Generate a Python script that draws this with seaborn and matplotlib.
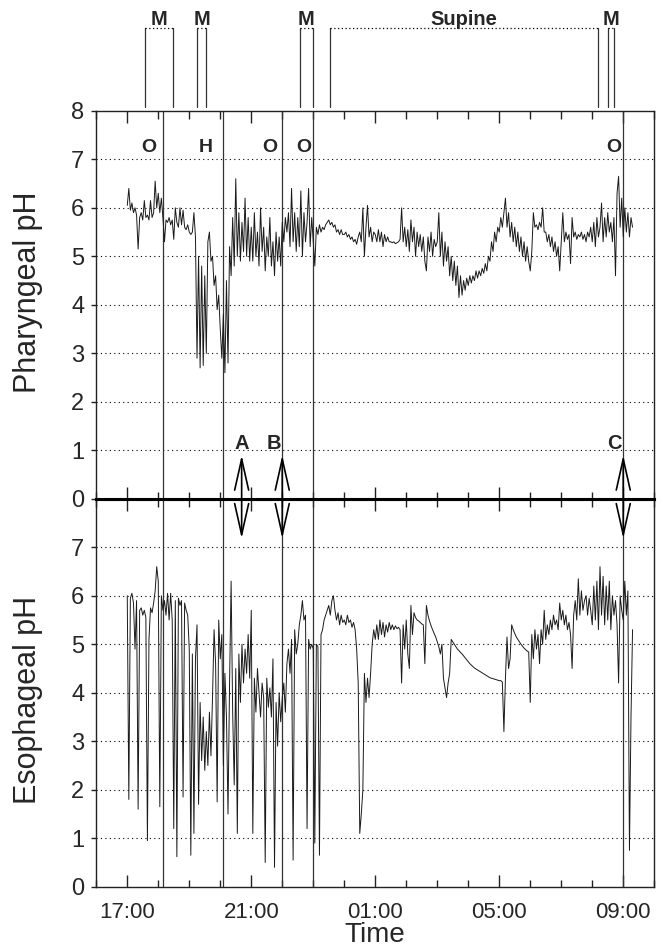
import numpy as np
import pandas as pd
import seaborn as sns
import matplotlib.pyplot as plt
from matplotlib.ticker import FixedLocator, MultipleLocator

sns.set_theme(style="white")
plt.rcParams["font.family"] = ["Liberation Sans", "DejaVu Sans"]

# pH every 3 minutes, from 17:00 to 09:18 (one row per hour)
pharyngeal_ph = [
    6.05, 6.4, 5.95, 6.1, 5.9, 6.0, 5.85, 5.15, 5.8, 5.9, 5.75, 6.15, 5.8, 5.85, 5.75, 6.15, 5.8, 5.9, 6.55, 6.0,
    6.3, 5.9, 6.2, 5.8, 5.3, 5.75, 5.7, 5.8, 5.65, 5.75, 5.35, 6.0, 5.7, 5.6, 6.0, 5.65, 5.95, 5.6, 5.55, 5.65,
    5.5, 5.45, 5.5, 5.9, 5.4, 2.9, 5.0, 2.7, 4.8, 2.75, 4.6, 3.0, 5.3, 5.5, 4.9, 5.0, 4.4, 4.6, 3.9, 4.2,
    3.5, 2.9, 3.8, 2.6, 4.5, 2.8, 5.2, 4.6, 5.8, 4.8, 6.6, 5.0, 5.9, 4.9, 5.7, 5.1, 6.2, 5.0, 5.8, 4.9,
    5.6, 4.9, 5.9, 5.0, 5.5, 4.8, 6.0, 5.1, 5.6, 4.7, 5.4, 5.0, 5.8, 4.8, 5.3, 4.6, 5.5, 4.9, 5.4, 4.8,
    5.7, 5.3, 5.8, 5.5, 5.9, 5.2, 6.4, 5.3, 5.9, 5.1, 5.8, 5.2, 6.35, 5.0, 5.9, 5.3, 5.7, 6.4, 5.2, 5.8,
    5.3, 4.8, 5.6, 5.45, 5.65, 5.5, 5.6, 5.55, 5.65, 5.7, 5.75, 5.65, 5.7, 5.6, 5.65, 5.5, 5.55, 5.45, 5.55, 5.45,
    5.45, 5.5, 5.4, 5.45, 5.35, 5.4, 5.3, 5.35, 5.25, 5.4, 5.5, 5.3, 6.0, 5.0, 5.6, 6.05, 5.4, 5.6, 5.3, 5.5,
    5.45, 5.3, 5.55, 5.3, 5.5, 5.2, 5.45, 5.3, 5.4, 5.3, 5.3, 5.28, 5.3, 5.26, 5.28, 5.3, 5.35, 6.0, 5.3, 5.6,
    5.2, 5.55, 5.1, 5.75, 5.3, 5.6, 5.0, 5.5, 5.2, 5.45, 5.1, 5.4, 4.9, 4.7, 5.4, 5.1, 5.5, 5.0, 5.35, 5.2,
    5.3, 5.9, 5.0, 5.5, 4.8, 5.3, 4.9, 5.2, 4.6, 5.0, 4.5, 4.9, 4.4, 4.8, 4.15, 4.6, 4.2, 4.5, 4.3, 4.55,
    4.4, 4.6, 4.45, 4.6, 4.5, 4.7, 4.55, 4.7, 4.6, 4.75, 4.65, 4.85, 4.7, 5.0, 4.9, 5.3, 5.1, 5.5, 5.3, 5.6,
    5.5, 5.8, 5.6, 5.9, 6.2, 5.6, 5.9, 5.4, 5.7, 5.3, 5.6, 5.2, 5.5, 5.1, 5.4, 5.0, 5.3, 4.9, 5.2, 4.9,
    4.7, 5.1, 5.9, 5.6, 5.65, 5.55, 5.7, 5.6, 6.0, 5.5, 5.5, 5.3, 5.45, 5.2, 5.4, 5.1, 5.3, 5.0, 5.2, 4.7,
    5.3, 5.9, 5.3, 5.5, 5.35, 5.45, 4.85, 5.8, 5.4, 5.5, 5.35, 5.45, 5.4, 5.5, 5.35, 5.45, 5.3, 5.5, 5.4, 5.6,
    5.3, 5.7, 5.2, 5.8, 5.4, 5.6, 6.1, 5.3, 5.8, 5.4, 5.9, 5.5, 5.7, 5.3, 5.8, 4.6, 6.3, 6.65, 5.6, 6.2,
    5.4, 6.0, 5.5, 5.9, 5.4, 5.8, 5.6,
]
esophageal_ph = [
    6.0, 1.8, 5.95, 6.05, 5.85, 4.9, 5.9, 1.6, 5.7, 5.75, 5.6, 5.7, 5.55, 0.95, 5.1, 5.75, 5.65, 5.85, 6.1, 6.6,
    6.3, 1.65, 6.0, 5.7, 5.9, 5.6, 6.05, 5.5, 6.05, 5.5, 1.2, 5.9, 0.62, 5.95, 5.8, 5.9, 1.85, 5.85, 5.7, 5.6,
    4.9, 0.65, 4.8, 1.1, 4.7, 5.4, 1.7, 3.8, 2.6, 3.5, 2.4, 3.2, 2.5, 3.6, 2.7, 3.9, 5.3, 4.6, 1.75, 5.5,
    4.7, 5.2, 2.5, 4.4, 3.5, 1.5, 4.2, 6.3, 3.6, 2.1, 4.5, 1.1, 4.8, 3.8, 5.0, 4.2, 4.9, 4.4, 5.2, 4.3,
    5.7, 1.1, 4.3, 3.6, 4.5, 4.0, 3.5, 4.2, 3.9, 0.5, 4.3, 3.7, 4.1, 3.5, 4.7, 0.4, 3.8, 2.9, 4.0, 3.4,
    3.9, 4.2, 3.6, 4.6, 4.9, 4.4, 5.1, 0.55, 5.3, 4.8, 5.0, 5.4, 5.6, 5.9, 5.5, 5.6, 1.2, 5.1, 4.9, 5.0,
    4.9, 0.9, 5.0, 4.95, 0.65, 5.2, 5.3, 5.5, 5.6, 5.7, 5.8, 5.6, 5.9, 6.0, 5.7, 5.5, 5.65, 5.4, 5.6, 5.45,
    5.5, 5.4, 5.6, 5.45, 5.5, 5.35, 5.45, 5.3, 4.9, 4.2, 1.1, 1.5, 2.0, 4.4, 3.8, 4.3, 3.9, 4.4, 5.0, 5.3,
    5.1, 5.4, 5.1, 5.5, 5.2, 5.45, 5.15, 5.4, 5.25, 5.45, 5.3, 5.4, 5.3, 5.38, 5.32, 5.35, 5.3, 4.2, 5.4, 4.9,
    5.5, 4.8, 4.5, 5.8, 5.2, 5.65, 5.55, 5.5, 5.48, 5.45, 5.42, 5.4, 4.6, 5.8, 5.6, 5.48, 5.38, 5.3, 5.22, 5.15,
    5.05, 4.95, 4.8, 5.0, 4.3, 4.1, 3.9, 4.2, 4.4, 5.1, 5.05, 5.0, 4.95, 4.9, 4.87, 4.83, 4.8, 4.76, 4.72, 4.68,
    4.64, 4.6, 4.57, 4.54, 4.51, 4.49, 4.47, 4.45, 4.43, 4.41, 4.39, 4.37, 4.35, 4.33, 4.31, 4.3, 4.29, 4.28, 4.27, 4.26,
    4.25, 4.25, 4.22, 3.2, 4.3, 5.15, 4.5, 4.7, 5.4, 5.3, 5.22, 5.15, 5.1, 5.05, 5.0, 4.96, 4.92, 4.89, 4.86, 4.84,
    3.8, 5.2, 4.7, 5.3, 4.9, 5.2, 4.6, 5.3, 5.0, 5.7, 5.1, 5.4, 5.2, 5.5, 5.3, 5.6, 5.4, 5.5, 5.3, 5.85,
    5.5, 5.7, 5.4, 5.6, 5.3, 5.45, 5.2, 4.5, 5.6, 5.9, 5.5, 6.35, 5.6, 6.1, 5.7, 5.9, 6.0, 5.6, 5.95, 5.7,
    5.4, 6.2, 5.5, 6.3, 5.3, 6.6, 5.6, 6.4, 5.4, 6.2, 5.5, 6.3, 5.3, 6.0, 5.6, 5.9, 5.4, 4.2, 6.0, 5.7,
    5.5, 6.3, 5.6, 6.1, 0.75, 3.5, 5.3,
]
start_hour = 17.0
step_hours = 0.05

# events (hours since midnight of day 1; 33 = 09:00 next day)
event_times = [18.15, 20.08, 22.0, 23.0, 33.0]
event_labels = ["O", "H", "O", "O", "O"]
event_label_x = [17.68, 19.54, 21.6, 22.71, 32.7]

arrow_times = [20.69, 22.0, 33.0]
arrow_labels = ["A", "B", "C"]
arrow_label_x = [20.69, 21.73, 32.7]

period_starts = [17.57, 19.26, 22.56, 23.54, 32.5]
period_ends = [18.47, 19.54, 23.0, 32.19, 32.7]
period_labels = ["M", "M", "M", "Supine", "M"]

hour_ticks = [17, 21, 25, 29, 33]
hour_labels = ["17:00", "21:00", "01:00", "05:00", "09:00"]

time = start_hour + step_hours * np.arange(len(pharyngeal_ph))
df = pd.DataFrame({"Time": time, "Pharyngeal": pharyngeal_ph, "Esophageal": esophageal_ph})

fig = plt.figure(figsize=(6.63, 9.48), dpi=100)
ax_bot = fig.add_axes([0.1452, 0.0646, 0.8416, 0.4093])
ax_top = fig.add_axes([0.1452, 0.4738, 0.8416, 0.4093])

for ax, col in [(ax_top, "Pharyngeal"), (ax_bot, "Esophageal")]:
    ax.set_facecolor("white")
    for level in range(1, 8):
        ax.axhline(level, color="black", lw=0.8, ls=(0, (1, 3)), zorder=1)
    for t in event_times:
        ax.axvline(t, color="#333333", lw=0.9, zorder=2)
    sns.lineplot(data=df, x="Time", y=col, ax=ax, color="#1a1a1a", lw=0.7,
                 estimator=None, sort=False, zorder=3)
    ax.set_xlim(16, 34)
    ax.set_ylim(0, 8)
    ax.set_xlabel("")
    ax.set_ylabel("")
    ax.xaxis.set_major_locator(FixedLocator(hour_ticks))
    ax.xaxis.set_minor_locator(MultipleLocator(1))
    ax.tick_params(axis="x", which="both", direction="in", top=True, bottom=True,
                   color="#222222", width=1.0)
    ax.tick_params(axis="x", which="major", length=8.6)
    ax.tick_params(axis="x", which="minor", length=5.4)
    ax.tick_params(axis="y", which="both", direction="out", left=True, right=False,
                   length=3.6, width=1.0, color="#222222", labelsize=17, pad=5)
    for side in ["left", "right", "top", "bottom"]:
        ax.spines[side].set_color("#222222")
        ax.spines[side].set_linewidth(1.0)

ax_top.spines["bottom"].set_linewidth(2.2)
ax_bot.spines["top"].set_linewidth(2.2)
ax_top.spines["bottom"].set_color("black")
ax_bot.spines["top"].set_color("black")

ax_top.set_yticks(range(0, 9))
ax_bot.set_yticks(range(0, 8))
ax_top.tick_params(axis="x", labelbottom=False)
ax_bot.set_xticklabels(hour_labels)
ax_bot.tick_params(axis="x", labelsize=16, pad=11)

# event letters
for x, lab in zip(event_label_x, event_labels):
    ax_top.text(x, 7.24, lab, ha="center", va="center", fontsize=14, fontweight="bold")

# arrows across the two probes
head = "->,head_length=1.6,head_width=0.36"
for t in arrow_times:
    ax_top.annotate("", xy=(t, 0.9), xytext=(t, 0), annotation_clip=False,
                    arrowprops=dict(arrowstyle=head, mutation_scale=14, lw=1.2,
                                    color="black", shrinkA=0, shrinkB=0))
    ax_bot.annotate("", xy=(t, 7.18), xytext=(t, 8), annotation_clip=False,
                    arrowprops=dict(arrowstyle=head, mutation_scale=14, lw=1.2,
                                    color="black", shrinkA=0, shrinkB=0))
for x, lab in zip(arrow_label_x, arrow_labels):
    ax_top.text(x, 1.15, lab, ha="center", va="center", fontsize=14.5, fontweight="bold")

# meal / supine periods above the plot
for s, e, lab in zip(period_starts, period_ends, period_labels):
    for x in (s, e):
        ax_top.plot([x, x], [8.08, 9.7], color="#333333", lw=0.9, clip_on=False)
    ax_top.plot([s, e], [9.7, 9.7], color="black", lw=0.9, ls=(0, (1, 2)), clip_on=False)
    ax_top.text((s + e) / 2, 9.76, lab, ha="center", va="baseline", fontsize=14.5,
                fontweight="bold")

fig.text(28 / 663, 1 - 292 / 948, "Pharyngeal pH", rotation=90, ha="center", va="center",
         fontsize=22)
fig.text(28 / 663, 1 - 700 / 948, "Esophageal pH", rotation=90, ha="center", va="center",
         fontsize=22)
fig.text(375 / 663, 1 - 935 / 948, "Time", ha="center", va="center", fontsize=20)

fig.savefig("out.png", dpi=100)
